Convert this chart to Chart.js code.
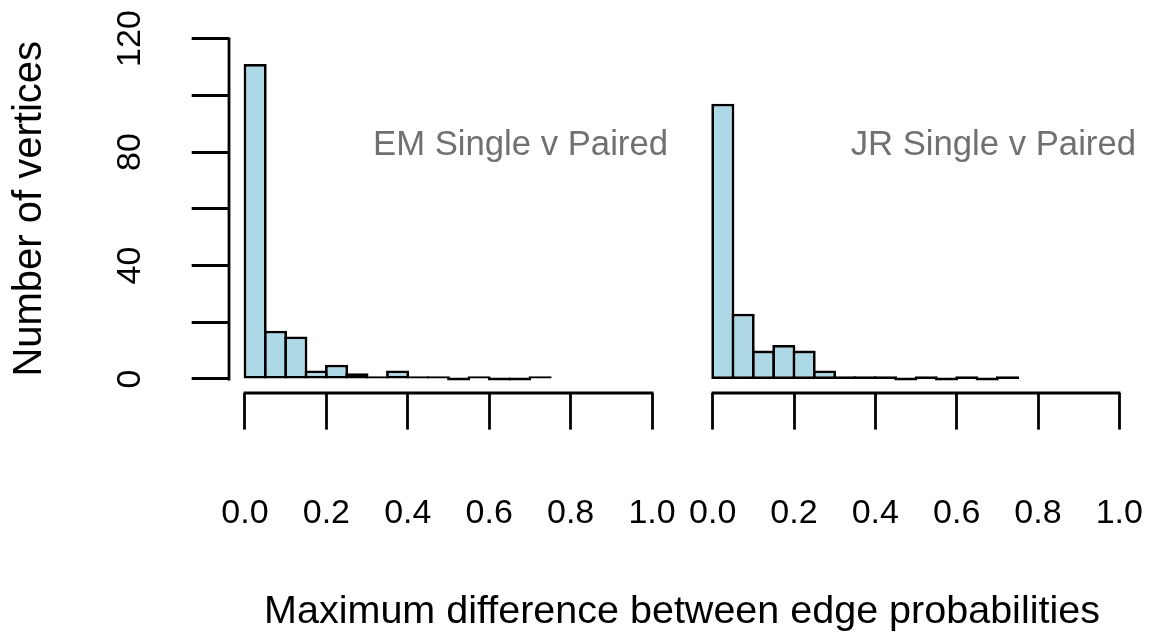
<!DOCTYPE html>
<html>
<head>
<meta charset="utf-8">
<script src="https://cdn.jsdelivr.net/npm/chart.js@4.4.1/dist/chart.umd.min.js"></script>
<style>
html,body{margin:0;padding:0;background:#fff;}
#wrap{position:relative;width:1153px;height:635px;overflow:hidden;background:#fff;font-family:"Liberation Sans",Arial,Helvetica,sans-serif;}
canvas{position:absolute;top:0;}
#c1{left:0;}
#c2{left:680px;}
.note{position:absolute;top:126px;font-size:34.7px;line-height:34px;color:#707070;white-space:nowrap;text-align:right;}
#n1{right:485px;}
#n2{right:17px;}
#xt{position:absolute;left:182px;width:1000px;top:589px;font-size:39.5px;line-height:40px;color:#000;text-align:center;white-space:nowrap;}
</style>
</head>
<body>
<div id="wrap">
  <canvas id="c1" width="680" height="635"></canvas>
  <canvas id="c2" width="473" height="635"></canvas>
  <div class="note" id="n1"></div>
  <div class="note" id="n2"></div>
  <div id="xt"></div>
</div>
<script>
// ---- data ----
const binEdges = [0, 0.05, 0.10, 0.15, 0.20, 0.25, 0.30, 0.35, 0.40, 0.45, 0.50, 0.55, 0.60, 0.65, 0.70, 0.75];
const emCounts = [111, 17, 15, 3, 5, 2, 1, 3, 1, 1, 0, 1, 0, 0, 1];
const jrCounts = [97, 23, 10, 12, 10, 3, 1, 1, 1, 0, 1, 0, 1, 0, 1];
const xTickValues = [0, 0.2, 0.4, 0.6, 0.8, 1.0];
const yTickValues = [0, 20, 40, 60, 80, 100, 120];
const yTickLabels = ['0', '', '40', '', '80', '', '120'];
const panelLabels = ['EM Single v Paired', 'JR Single v Paired'];
const xTitle = 'Maximum difference between edge probabilities';
const yTitle = 'Number of vertices';

document.getElementById('n1').textContent = panelLabels[0];
document.getElementById('n2').textContent = panelLabels[1];
document.getElementById('xt').textContent = xTitle;

Chart.defaults.font.family = '"Liberation Sans", Arial, Helvetica, sans-serif';
Chart.defaults.color = '#000';

const LW = 2.8;

function toPoints(counts) {
  return counts.map((c, i) => ({ x: (binEdges[i] + binEdges[i + 1]) / 2, y: c }));
}

const axisLines = {
  id: 'axisLines',
  afterDraw(chart, args, opts) {
    const { ctx, scales: { x, y }, chartArea } = chart;
    ctx.save();
    ctx.strokeStyle = '#000';
    ctx.lineWidth = LW;
    ctx.lineCap = 'square';
    const yb = Math.round(chartArea.bottom);
    ctx.beginPath();
    ctx.moveTo(Math.round(x.getPixelForValue(xTickValues[0])), yb);
    ctx.lineTo(Math.round(x.getPixelForValue(xTickValues[xTickValues.length - 1])), yb);
    ctx.stroke();
    if (opts.yAxis) {
      const xl = Math.round(chartArea.left);
      ctx.beginPath();
      ctx.moveTo(xl, Math.round(y.getPixelForValue(yTickValues[0])));
      ctx.lineTo(xl, Math.round(y.getPixelForValue(yTickValues[yTickValues.length - 1])));
      ctx.stroke();
    }
    ctx.restore();
  }
};

function makeChart(id, counts, showY, pad) {
  return new Chart(document.getElementById(id), {
    type: 'bar',
    data: {
      datasets: [{
        data: toPoints(counts),
        backgroundColor: '#ADD8E6',
        borderColor: '#000',
        borderWidth: LW,
        borderSkipped: false,
        barPercentage: 1.135,
        categoryPercentage: 1,
        minBarLength: LW
      }]
    },
    plugins: [axisLines],
    options: {
      responsive: false,
      animation: false,
      layout: { padding: pad },
      plugins: {
        legend: { display: false },
        tooltip: { enabled: false },
        title: { display: false },
        axisLines: { yAxis: showY }
      },
      scales: {
        x: {
          type: 'linear',
          min: -0.04,
          max: 1.04,
          offset: false,
          afterBuildTicks: s => { s.ticks = xTickValues.map(v => ({ value: v })); },
          afterFit: s => { s.height = 242.4; s.paddingLeft = 0; s.paddingRight = 0; },
          ticks: {
            autoSkip: false,
            maxRotation: 0,
            padding: 64,
            font: { size: 34 },
            color: '#000',
            callback: v => Number(v).toFixed(1)
          },
          grid: {
            display: true,
            offset: false,
            drawOnChartArea: false,
            drawTicks: true,
            tickLength: 37,
            tickWidth: LW,
            tickColor: '#000'
          },
          border: { display: false }
        },
        y: {
          type: 'linear',
          display: showY,
          min: -4.8,
          max: 124.8,
          afterBuildTicks: s => { s.ticks = yTickValues.map(v => ({ value: v })); },
          afterFit: s => { s.width = showY ? 228.7 : 0; s.paddingTop = 0; s.paddingBottom = 0; },
          ticks: {
            autoSkip: false,
            minRotation: 90,
            maxRotation: 90,
            crossAlign: 'center',
            padding: 33,
            font: { size: 34 },
            color: '#000',
            callback: v => yTickLabels[yTickValues.indexOf(v)]
          },
          grid: {
            display: true,
            drawOnChartArea: false,
            drawTicks: true,
            tickLength: 37,
            tickWidth: LW,
            tickColor: '#000'
          },
          border: { display: false },
          title: {
            display: true,
            text: yTitle,
            font: { size: 40 },
            color: '#000',
            padding: { top: 6, bottom: 0 }
          }
        }
      }
    }
  });
}

makeChart('c1', emCounts, true, { left: 0, right: 11.7, top: 24.9, bottom: 0 });
makeChart('c2', jrCounts, false, { left: 16.4, right: 17.4, top: 24.9, bottom: 0 });
</script>
</body>
</html>
